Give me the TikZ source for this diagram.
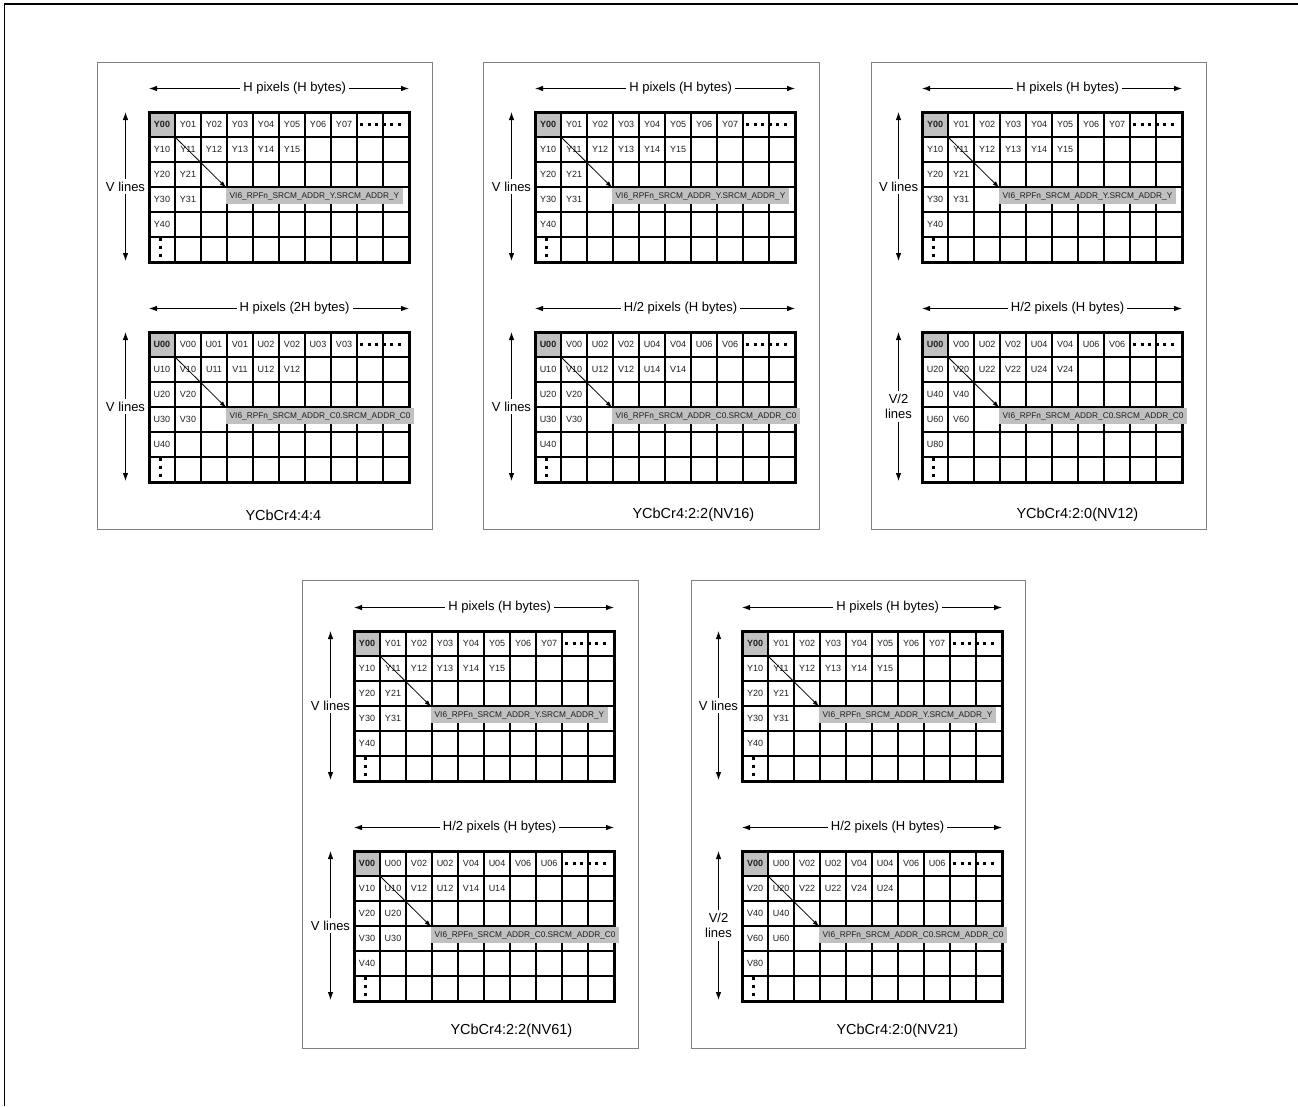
\documentclass[tikz,border=0pt]{standalone}
\usepackage{fontspec}
\setmainfont{Liberation Sans}
\usetikzlibrary{arrows.meta,positioning,calc}
\definecolor{cellGray}{HTML}{C0C0C0}
\definecolor{frameGray}{HTML}{808080}
\definecolor{inkDark}{HTML}{1E1E1E}
\tikzset{
  >={Latex[length=8pt,width=5.5pt]},
  panelframe/.style={draw=frameGray,line width=1pt},
  gridouter/.style={draw=black,line width=3pt},
  gridinner/.style={draw=black,line width=1.8pt},
  celltext/.style={font=\fontsize{9}{10}\selectfont,text=inkDark,inner sep=0pt,minimum width=26pt,minimum height=25pt},
  dimlabel/.style={fill=white,font=\fontsize{13}{15}\selectfont,inner sep=3pt,align=center},
  addrbox/.style={fill=cellGray,anchor=north west,font=\fontsize{8.3}{9}\selectfont,text=inkDark,inner xsep=3.5pt,inner ysep=0pt,minimum height=16.5pt},
  dimarrow/.style={<->,line width=0.9pt},
  ptrarrow/.style={-{Latex[length=6.5pt,width=4.5pt]},line width=0.8pt},
  dotrow/.style={line width=3pt,dash pattern=on 3pt off 4.6pt},
  dotcol/.style={line width=3pt,dash pattern=on 3pt off 5pt},
  caption/.style={font=\fontsize{14.5}{16}\selectfont,anchor=west},
}
\newcommand{\memgrid}[8]{%
  \coordinate (#1) at #2;
  \fill[cellGray] (#1) rectangle ($(#1)+(26,25)$);
  \foreach \i in {1,...,9} \draw[gridinner] ($(#1)+(26*\i,0)$) -- ++(0,150);
  \foreach \j in {1,...,5} \draw[gridinner] ($(#1)+(0,25*\j)$) -- ++(260,0);
  \draw[gridouter] (#1) rectangle ($(#1)+(260,150)$);
  \foreach \lbl [count=\c from 0] in {#5}
    \node[celltext] (#1-0-\c) at ($(#1)+(26*\c+13,12.5)$) {\ifnum\c=0 \textbf{\lbl}\else\lbl\fi};
  \foreach \lbl [count=\c from 0] in {#6}
    \node[celltext] (#1-1-\c) at ($(#1)+(26*\c+13,37.5)$) {\lbl};
  \foreach \r/\c/\lbl in {#7}
    \node[celltext] (#1-\r-\c) at ($(#1)+(26*\c+13,25*\r+12.5)$) {\lbl};
  \draw[dotrow] ($(#1)+(211,12.5)$) -- ($(#1)+(252.4,12.5)$);
  \draw[dotcol] ($(#1)+(11,125.5)$) -- ($(#1)+(11,144.5)$);
  \coordinate (#1-hl) at ($(#1)+(0,-23.5)$);
  \coordinate (#1-hr) at ($(#1)+(260,-23.5)$);
  \draw[dimarrow] (#1-hl) -- (#1-hr) node[pos=0.56,dimlabel] (#1-h) {#3};
  \coordinate (#1-vt) at ($(#1)+(-23.5,0)$);
  \coordinate (#1-vb) at ($(#1)+(-23.5,149)$);
  \draw[dimarrow] (#1-vt) -- (#1-vb) node[midway,dimlabel] (#1-v) {#4};
  \node[addrbox] (#1-addr) at ($(#1)+(77,75.5)$) {VI6\_RPFn\_SRCM\_ADDR\_#8.SRCM\_ADDR\_#8};
  \draw[ptrarrow] (#1-0-0.south east) -- (#1-addr.north west);
}
\newcommand{\lumagrid}[2]{\memgrid{#1}{#2}{H pixels (H bytes)}{V lines}%
  {Y00,Y01,Y02,Y03,Y04,Y05,Y06,Y07}{Y10,Y11,Y12,Y13,Y14,Y15}%
  {2/0/Y20,2/1/Y21,3/0/Y30,3/1/Y31,4/0/Y40}{Y}}

\begin{document}
\begin{tikzpicture}[x=1pt,y=-1pt]
  \useasboundingbox (0,0) rectangle (1298,1106);
  \draw[line width=1.7pt] (1298,4) -- (4.5,4) -- (4.5,1106);

  \draw[panelframe] (97,62) rectangle (432,529);
  \lumagrid{p1y}{(149,112)}
  \memgrid{p1c}{(149,332)}{H pixels (2H bytes)}{V lines}
    {U00,V00,U01,V01,U02,V02,U03,V03}{U10,V10,U11,V11,U12,V12}
    {2/0/U20,2/1/V20,3/0/U30,3/1/V30,4/0/U40}{C0}
  \node[caption] (p1cap) at (242,515) {YCbCr4:4:4};

  \draw[panelframe] (483,62) rectangle (819,529);
  \lumagrid{p2y}{(535,112)}
  \memgrid{p2c}{(535,332)}{H/2 pixels (H bytes)}{V lines}
    {U00,V00,U02,V02,U04,V04,U06,V06}{U10,V10,U12,V12,U14,V14}
    {2/0/U20,2/1/V20,3/0/U30,3/1/V30,4/0/U40}{C0}
  \node[caption] (p2cap) at (629,515) {YCbCr4:2:2(NV16)};

  \draw[panelframe] (871,62) rectangle (1206,529);
  \lumagrid{p3y}{(922,112)}
  \memgrid{p3c}{(922,332)}{H/2 pixels (H bytes)}{V/2\\lines}
    {U00,V00,U02,V02,U04,V04,U06,V06}{U20,V20,U22,V22,U24,V24}
    {2/0/U40,2/1/V40,3/0/U60,3/1/V60,4/0/U80}{C0}
  \node[caption] (p3cap) at (1013,515) {YCbCr4:2:0(NV12)};

  \draw[panelframe] (302,580) rectangle (638,1048);
  \lumagrid{p4y}{(354,631)}
  \memgrid{p4c}{(354,851)}{H/2 pixels (H bytes)}{V lines}
    {V00,U00,V02,U02,V04,U04,V06,U06}{V10,U10,V12,U12,V14,U14}
    {2/0/V20,2/1/U20,3/0/V30,3/1/U30,4/0/V40}{C0}
  \node[caption] (p4cap) at (447,1031) {YCbCr4:2:2(NV61)};

  \draw[panelframe] (691,580) rectangle (1025,1048);
  \lumagrid{p5y}{(742,631)}
  \memgrid{p5c}{(742,851)}{H/2 pixels (H bytes)}{V/2\\lines}
    {V00,U00,V02,U02,V04,U04,V06,U06}{V20,U20,V22,U22,V24,U24}
    {2/0/V40,2/1/U40,3/0/V60,3/1/U60,4/0/V80}{C0}
  \node[caption] (p5cap) at (833,1031) {YCbCr4:2:0(NV21)};
\end{tikzpicture}
\end{document}
